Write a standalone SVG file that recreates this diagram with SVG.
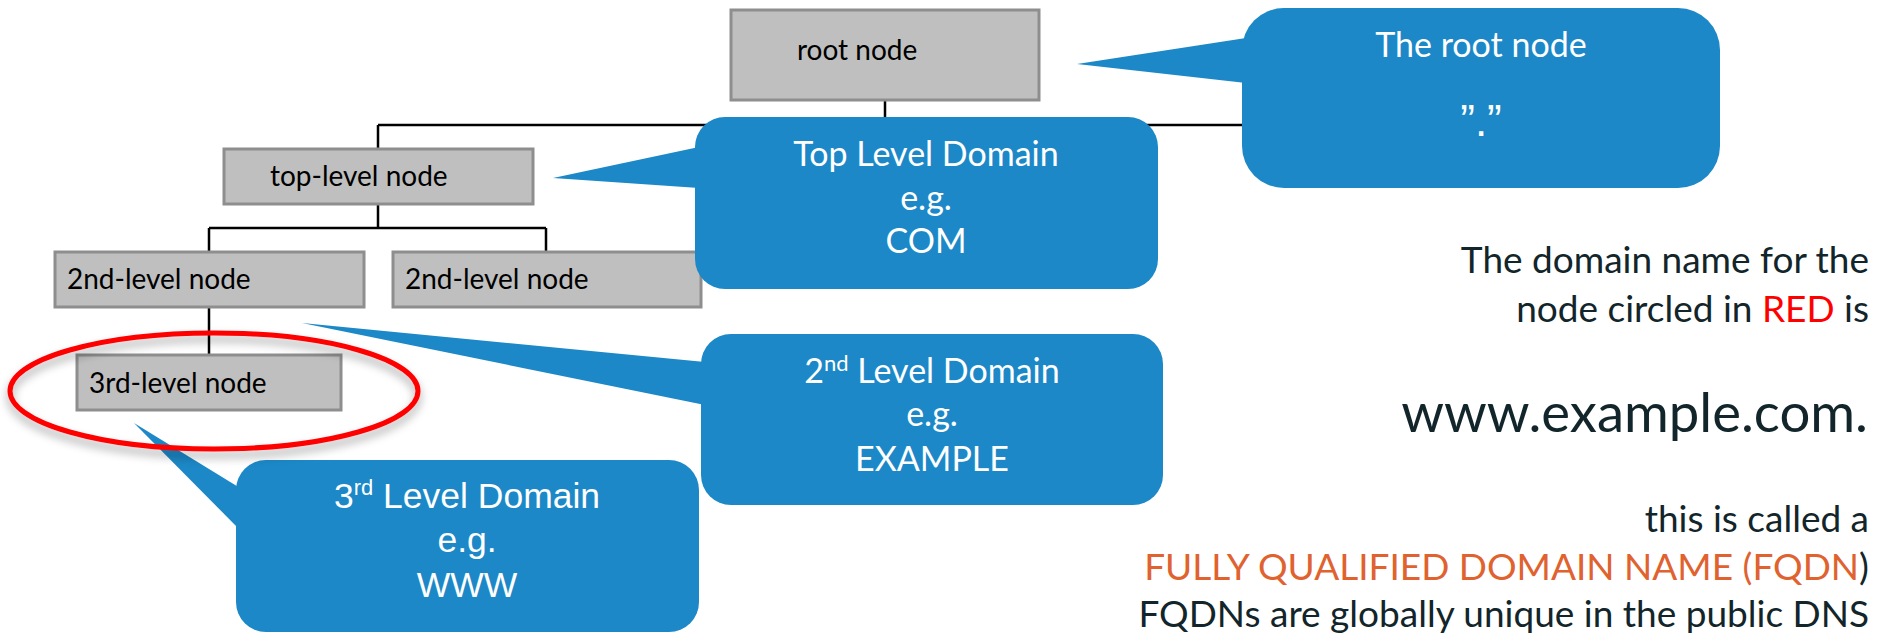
<svg xmlns="http://www.w3.org/2000/svg" width="1879" height="636" viewBox="0 0 1879 636">
<defs>
<style>
.box{fill:#bfbfbf;stroke:#8e8e8e;stroke-width:3}
.nt{font-family:Lato,"Noto Sans",sans-serif;font-size:28px;fill:#000}
.ln{fill:none;stroke:#000;stroke-width:2.5}
.co{fill:#1c88c7}
.ct{font-family:Lato,"Noto Sans",sans-serif;font-size:34px;fill:#fff;text-anchor:middle}
.ca{font-family:"Liberation Sans",Arial,sans-serif;font-size:35.5px;fill:#fff;text-anchor:middle}
.rt{font-family:Lato,"Noto Sans",sans-serif;font-size:37px;fill:#12252a;text-anchor:end}
.big{font-size:54.5px}
.q{font-size:44px}
</style>
<filter id="sh" x="-10%" y="-20%" width="120%" height="150%">
<feDropShadow dx="0" dy="6" stdDeviation="5" flood-color="#000" flood-opacity="0.35"/>
</filter>
</defs>
<rect width="1879" height="636" fill="#fff"/>
<g id="connectors">
<path class="ln" d="M885 100V125M378 125H1250M378 125V149"/>
<path class="ln" d="M378 204V228M209 228H546M209 228V252M546 228V252"/>
<path class="ln" d="M209 307V355"/>
</g>
<g id="root-node"><rect class="box" x="731" y="10" width="308" height="90"/><text class="nt" x="797" y="60">root node</text></g>
<g id="top-level-node"><rect class="box" x="224" y="149" width="309" height="55"/><text class="nt" x="270" y="186">top-level node</text></g>
<g id="second-level-node-1"><rect class="box" x="55" y="252" width="309" height="55"/><text class="nt" x="67" y="289">2nd-level node</text></g>
<g id="second-level-node-2"><rect class="box" x="393" y="252" width="308" height="55"/><text class="nt" x="405" y="289">2nd-level node</text></g>
<g id="third-level-node"><rect class="box" x="77" y="355" width="264" height="55"/><text class="nt" x="89" y="393">3rd-level node</text></g>
<g id="callout-root"><polygon class="co" points="1077,64 1246,38 1246,83"/><rect class="co" x="1242" y="8" width="478" height="180" rx="42"/>
<text class="ct" x="1481" y="57">The root node</text>
<text class="ca q" x="1481" y="136">”.”</text></g>
<g id="callout-tld"><polygon class="co" points="553,178 699,147 699,188"/><rect class="co" x="695" y="117" width="463" height="172" rx="30"/>
<text class="ct" x="926" y="166">Top Level Domain</text><text class="ct" x="926" y="210">e.g.</text><text class="ct" x="926" y="253">COM</text></g>
<g id="callout-2nd"><polygon class="co" points="302,323 705,362 705,405"/><rect class="co" x="701" y="334" width="462" height="171" rx="30"/>
<text class="ct" x="932" y="383">2<tspan font-size="22" dy="-12">nd</tspan><tspan dy="12"> Level Domain</tspan></text><text class="ct" x="932" y="426">e.g.</text><text class="ct" x="932" y="471">EXAMPLE</text></g>
<g id="callout-3rd"><polygon class="co" points="134,423 240,488 240,530"/><rect class="co" x="236" y="460" width="463" height="172" rx="30"/>
<text class="ca" x="467" y="508">3<tspan font-size="22" dy="-13">rd</tspan><tspan dy="13"> Level Domain</tspan></text><text class="ca" x="467" y="552">e.g.</text><text class="ca" x="467" y="597">WWW</text></g>
<g id="red-circle"><ellipse cx="214" cy="391" rx="204" ry="58" fill="none" stroke="#ff0000" stroke-width="5" filter="url(#sh)"/></g>
<g id="explanation">
<text class="rt" x="1869" y="273">The domain name for the</text>
<text class="rt" x="1869" y="322">node circled in <tspan fill="#ff0000">RED</tspan> is</text>
<text class="rt big" x="1868" y="432">www.example.com.</text>
<text class="rt" x="1869" y="532">this is called a</text>
<text class="rt" x="1869" y="580"><tspan fill="#e0622f">FULLY QUALIFIED DOMAIN NAME (FQDN</tspan>)</text>
<text class="rt" x="1869" y="627">FQDNs are globally unique in the public DNS</text>
</g>
</svg>
